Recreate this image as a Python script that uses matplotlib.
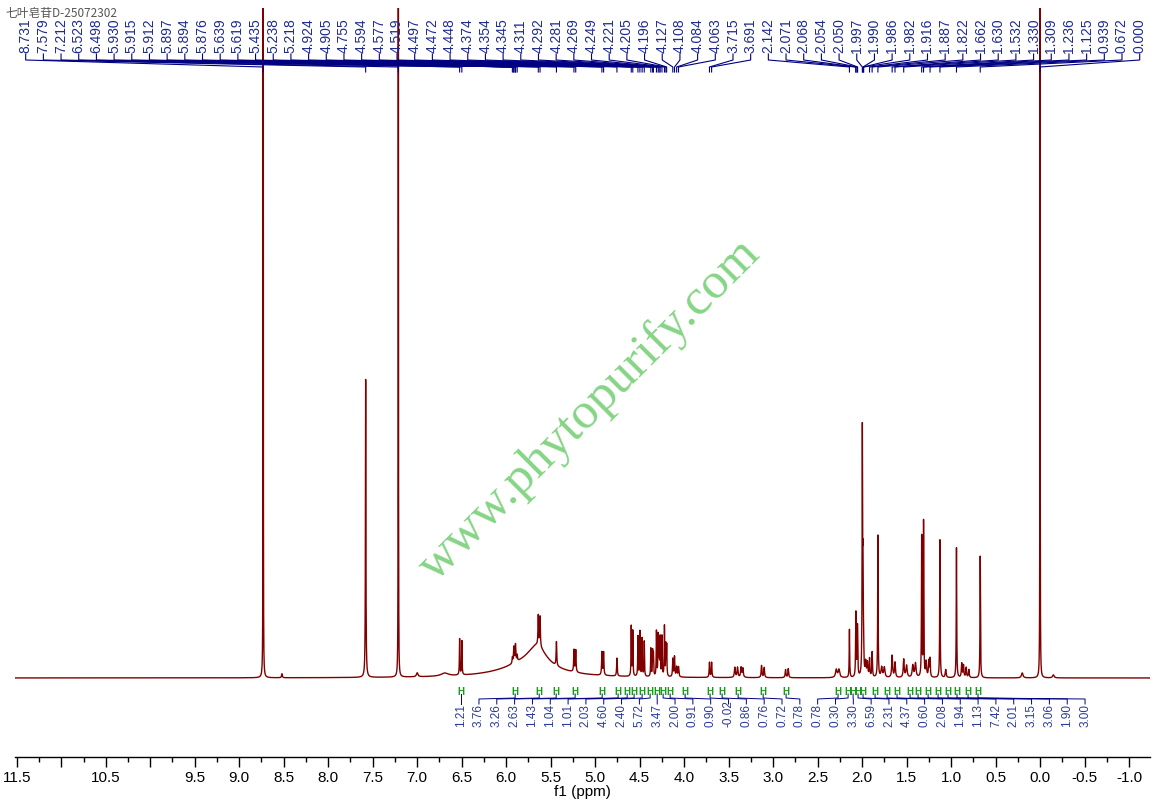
import numpy as np
import matplotlib
matplotlib.use('Agg')
import matplotlib.pyplot as plt
from matplotlib.ticker import FixedLocator, MultipleLocator

plt.rcParams['font.family'] = ['Liberation Sans', 'DejaVu Sans']

title = '七叶皂苷D-25072302'

# 谱峰：化学位移 (ppm)、高度、半峰宽 (ppm)
peak_ppm = [8.731, 8.52, 7.579, 7.212, 7.00, 6.69, 6.523, 6.498, 5.65, 5.75,
            5.930, 5.915, 5.912, 5.897, 5.894, 5.876, 5.639, 5.619, 5.435,
            5.238, 5.218, 4.924, 4.905, 4.755, 4.594, 4.577, 4.519, 4.497,
            4.472, 4.448, 4.374, 4.354, 4.345, 4.311, 4.292, 4.281, 4.269,
            4.249, 4.221, 4.205, 4.196, 4.127, 4.108, 4.084, 4.063, 3.715,
            3.691, 3.43, 3.40, 3.36, 3.34, 3.13, 3.10, 2.86, 2.83, 2.29,
            2.26, 2.142, 2.071, 2.068, 2.054, 2.050, 1.997, 1.990, 1.986,
            1.982, 1.96, 1.94, 1.916, 1.887, 1.822, 1.78, 1.75, 1.662, 1.630,
            1.532, 1.50, 1.43, 1.40, 1.330, 1.309, 1.28, 1.25, 1.236, 1.125,
            1.06, 0.939, 0.88, 0.86, 0.83, 0.80, 0.672, 0.20, 0.000, -0.15]
peak_height = [3000, 4, 298, 3000, 4, 3, 36, 34, 20, 14,
               6, 9, 9, 10, 10, 6, 30, 30, 24,
               22, 22, 23, 23, 18, 50, 45, 40, 45,
               38, 35, 28, 25, 22, 45, 40, 35, 38,
               40, 50, 30, 30, 18, 20, 10, 10, 15,
               15, 10, 10, 10, 9, 12, 10, 8, 9, 8,
               8, 48, 40, 40, 36, 36, 238, 90, 20,
               20, 14, 14, 18, 25, 142, 10, 10, 22, 15,
               18, 12, 12, 14, 140, 155, 15, 16, 18, 138,
               8, 130, 14, 12, 10, 8, 122, 5, 3000, 3]
peak_hwhm = [0.0008, 0.005, 0.003, 0.0008, 0.01, 0.05, 0.003, 0.003, 0.12, 0.35,
             0.004, 0.004, 0.004, 0.004, 0.004, 0.004, 0.004, 0.004, 0.004,
             0.004, 0.004, 0.004, 0.004, 0.004, 0.003, 0.003, 0.003, 0.003,
             0.003, 0.003, 0.003, 0.003, 0.003, 0.003, 0.003, 0.003, 0.003,
             0.003, 0.003, 0.003, 0.003, 0.004, 0.004, 0.005, 0.005, 0.004,
             0.004, 0.006, 0.006, 0.006, 0.006, 0.005, 0.005, 0.005, 0.005, 0.01,
             0.01, 0.003, 0.003, 0.003, 0.003, 0.003, 0.003, 0.003, 0.003,
             0.003, 0.006, 0.006, 0.004, 0.004, 0.003, 0.008, 0.008, 0.006, 0.006,
             0.006, 0.008, 0.008, 0.008, 0.003, 0.003, 0.006, 0.005, 0.004, 0.003,
             0.006, 0.003, 0.005, 0.005, 0.005, 0.005, 0.003, 0.01, 0.0008, 0.01]

# 峰标注
peak_labels = ['8.731', '7.579', '7.212', '6.523', '6.498', '5.930', '5.915',
               '5.912', '5.897', '5.894', '5.876', '5.639', '5.619', '5.435',
               '5.238', '5.218', '4.924', '4.905', '4.755', '4.594', '4.577',
               '4.519', '4.497', '4.472', '4.448', '4.374', '4.354', '4.345',
               '4.311', '4.292', '4.281', '4.269', '4.249', '4.221', '4.205',
               '4.196', '4.127', '4.108', '4.084', '4.063', '3.715', '3.691',
               '2.142', '2.071', '2.068', '2.054', '2.050', '1.997', '1.990',
               '1.986', '1.982', '1.916', '1.887', '1.822', '1.662', '1.630',
               '1.532', '1.330', '1.309', '1.236', '1.125', '0.939', '0.672',
               '0.000']

# 积分
integ_values = ['1.21', '3.76', '3.26', '2.63', '1.43', '1.04', '1.01', '2.03',
                '4.60', '2.40', '5.72', '3.47', '2.00', '0.91', '0.90', '-0.02',
                '0.86', '0.76', '0.72', '0.78', '0.78', '0.30', '3.30', '6.59',
                '2.31', '4.37', '0.60', '2.08', '1.94', '1.13', '7.42', '2.01',
                '3.15', '3.06', '1.90', '3.00']
integ_ppm = [6.506, 5.899, 5.629, 5.438, 5.225, 4.921, 4.742, 4.640, 4.562,
             4.472, 4.382, 4.303, 4.236, 4.157, 3.989, 3.708, 3.573, 3.393,
             3.112, 2.854, 2.270, 2.157, 2.101, 2.045, 1.989, 1.854, 1.719,
             1.607, 1.461, 1.371, 1.258, 1.146, 1.034, 0.933, 0.809, 0.697]

major_ticks = np.arange(-1.0, 11.51, 0.5)
tick_text = ['' if abs(t - 11.0) < 1e-6 or abs(t - 10.0) < 1e-6 else f'{t:.1f}'
             for t in major_ticks]

x = np.linspace(11.7, -1.4, 40000)
y = np.zeros_like(x)
for p, h, w in zip(peak_ppm, peak_height, peak_hwhm):
    y += h / (1 + ((x - p) / w) ** 2)

fig = plt.figure(figsize=(11.58, 8.07), dpi=100)
ax = fig.add_axes([15 / 1158, 50 / 807, 1135 / 1158, 749 / 807])
ax.plot(x, y, color='#800000', lw=1.0)
ax.set_xlim(11.52, -1.236)
ax.set_ylim(-79, 670)

for s in ['top', 'left', 'right']:
    ax.spines[s].set_visible(False)
ax.spines['bottom'].set_linewidth(1.0)
ax.set_yticks([])
ax.xaxis.set_major_locator(FixedLocator(major_ticks))
ax.set_xticklabels(tick_text)
ax.xaxis.set_minor_locator(MultipleLocator(0.25))
ax.tick_params(axis='x', which='major', length=7, width=1, labelsize=11, pad=3)
ax.tick_params(axis='x', which='minor', length=3.5, width=1)
ax.set_xlabel('f1 (ppm)', fontsize=11, labelpad=0)

# 峰标注 + 连线
navy = '#000080'
lab_x = np.linspace(11.40, -1.12, len(peak_labels))
for lx, t in zip(lab_x, peak_labels):
    pv = float(t)
    ax.text(lx, 625, t, rotation=90, ha='center', va='bottom',
            fontsize=10, color='#1f2a90')
    ax.plot([lx, lx, pv, pv], [624, 618, 611, 606], color=navy, lw=0.8,
            clip_on=False)

# 积分
ix = np.linspace(6.506, -0.506, len(integ_values))
for lx, v, rp in zip(ix, integ_values, integ_ppm):
    ax.text(lx, -49, v, rotation=90, ha='center', va='bottom',
            fontsize=8.5, color='#2a3a9a')
    ax.plot([lx, lx, rp, rp], [-26, -21, -20, -16], color=navy, lw=0.7)
    ax.text(rp, -14, 'H', ha='center', va='center', fontsize=7,
            color='#1a9a1a', fontweight='bold')

# 水印
ax.text(5.06, 268, 'www.phytopurify.com', rotation=45, rotation_mode='anchor',
        ha='center', va='center', fontsize=37, family='Liberation Serif',
        color='#86d486')

fig.text(5 / 1158, 1 - 13 / 807, title, fontsize=8.5, color='#555555',
         family=['Noto Sans CJK SC', 'DejaVu Sans'], ha='left', va='center')

fig.savefig('out.png', dpi=100)
